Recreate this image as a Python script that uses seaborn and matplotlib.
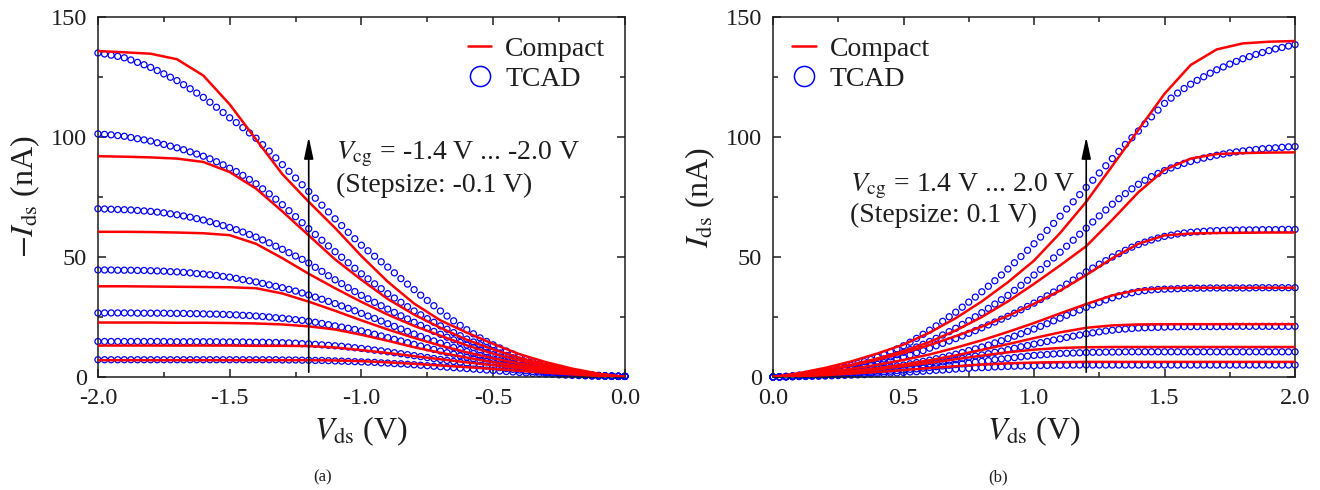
import numpy as np
import pandas as pd
import matplotlib
matplotlib.use("Agg")
import matplotlib.pyplot as plt
from matplotlib.lines import Line2D
from matplotlib.ticker import MultipleLocator, FormatStrFormatter
import seaborn as sns

# ---------------------------------------------------------------------------
# Sweep grids (|Vds| in V): TCAD every 25 mV, compact model every 100 mV
# ---------------------------------------------------------------------------
vds_tcad = [
    0.000, 0.025, 0.050, 0.075, 0.100, 0.125, 0.150, 0.175,
    0.200, 0.225, 0.250, 0.275, 0.300, 0.325, 0.350, 0.375,
    0.400, 0.425, 0.450, 0.475, 0.500, 0.525, 0.550, 0.575,
    0.600, 0.625, 0.650, 0.675, 0.700, 0.725, 0.750, 0.775,
    0.800, 0.825, 0.850, 0.875, 0.900, 0.925, 0.950, 0.975,
    1.000, 1.025, 1.050, 1.075, 1.100, 1.125, 1.150, 1.175,
    1.200, 1.225, 1.250, 1.275, 1.300, 1.325, 1.350, 1.375,
    1.400, 1.425, 1.450, 1.475, 1.500, 1.525, 1.550, 1.575,
    1.600, 1.625, 1.650, 1.675, 1.700, 1.725, 1.750, 1.775,
    1.800, 1.825, 1.850, 1.875, 1.900, 1.925, 1.950, 1.975,
    2.000,
]
vds_compact = [0.0, 0.1, 0.2, 0.3, 0.4, 0.5, 0.6, 0.7, 0.8, 0.9, 1.0,
               1.1, 1.2, 1.3, 1.4, 1.5, 1.6, 1.7, 1.8, 1.9, 2.0]

vcg_n = [-1.4, -1.5, -1.6, -1.7, -1.8, -1.9, -2.0]
vcg_p = [1.4, 1.5, 1.6, 1.7, 1.8, 1.9, 2.0]

# ---------------------------------------------------------------------------
# (a) p-type: -Ids (nA) versus |Vds|, TCAD
# ---------------------------------------------------------------------------
tcad_n14 = [0.2, 0.2, 0.3, 0.3, 0.35, 0.4, 0.5, 0.6,
            0.7, 0.8, 0.9, 1.1, 1.2, 1.4, 1.5, 1.7,
            1.9, 2.1, 2.3, 2.5, 2.7, 2.9, 3.1, 3.3,
            3.5, 3.7, 3.9, 4.1, 4.3, 4.5, 4.7, 4.9,
            5.1, 5.3, 5.5, 5.6, 5.8, 5.9, 6.1, 6.2,
            6.3, 6.4, 6.5, 6.6, 6.7, 6.8, 6.9, 6.9,
            7.0, 7.0, 7.1, 7.1, 7.1, 7.2, 7.2, 7.2,
            7.2, 7.2, 7.2, 7.2, 7.2, 7.2, 7.2, 7.2,
            7.2, 7.2, 7.2, 7.2, 7.2, 7.2, 7.2, 7.2,
            7.2, 7.2, 7.2, 7.2, 7.2, 7.2, 7.2, 7.2,
            7.2]
tcad_n15 = [0.3, 0.3, 0.3, 0.4, 0.4, 0.5, 0.6, 0.8,
            0.9, 1.1, 1.3, 1.6, 1.8, 2.1, 2.3, 2.6,
            2.9, 3.2, 3.5, 3.9, 4.2, 4.6, 4.9, 5.3,
            5.7, 6.1, 6.5, 6.9, 7.3, 7.7, 8.1, 8.5,
            8.9, 9.3, 9.7, 10.1, 10.5, 10.9, 11.2, 11.6,
            11.9, 12.2, 12.5, 12.8, 13.0, 13.2, 13.4, 13.6,
            13.8, 13.9, 14.1, 14.2, 14.3, 14.4, 14.4, 14.5,
            14.5, 14.5, 14.6, 14.6, 14.6, 14.6, 14.7, 14.7,
            14.7, 14.7, 14.7, 14.7, 14.7, 14.7, 14.8, 14.8,
            14.8, 14.8, 14.8, 14.8, 14.8, 14.8, 14.8, 14.8,
            14.8]
tcad_n16 = [0.3, 0.3, 0.3, 0.4, 0.5, 0.6, 0.8, 0.9,
            1.1, 1.4, 1.7, 2.0, 2.3, 2.7, 3.1, 3.5,
            3.9, 4.4, 4.9, 5.4, 5.9, 6.5, 7.0, 7.6,
            8.2, 8.8, 9.5, 10.1, 10.8, 11.5, 12.2, 12.9,
            13.6, 14.3, 15.0, 15.7, 16.4, 17.1, 17.8, 18.5,
            19.2, 19.8, 20.3, 20.8, 21.3, 21.8, 22.3, 22.8,
            23.2, 23.6, 23.9, 24.2, 24.5, 24.7, 25.0, 25.2,
            25.4, 25.6, 25.7, 25.9, 26.0, 26.1, 26.2, 26.2,
            26.3, 26.4, 26.4, 26.5, 26.5, 26.5, 26.6, 26.6,
            26.6, 26.6, 26.6, 26.7, 26.7, 26.7, 26.7, 26.7,
            26.7]
tcad_n17 = [0.3, 0.3, 0.4, 0.4, 0.5, 0.7, 0.9, 1.1,
            1.3, 1.6, 2.0, 2.4, 2.8, 3.3, 3.8, 4.3,
            4.9, 5.5, 6.1, 6.8, 7.5, 8.2, 9.0, 9.8,
            10.6, 11.5, 12.3, 13.2, 14.1, 15.0, 16.0, 16.9,
            17.9, 19.0, 20.0, 21.1, 22.2, 23.3, 24.4, 25.4,
            26.5, 27.6, 28.6, 29.6, 30.6, 31.5, 32.4, 33.3,
            34.2, 35.0, 35.8, 36.5, 37.2, 37.8, 38.4, 39.0,
            39.6, 40.1, 40.6, 41.1, 41.6, 41.9, 42.3, 42.6,
            42.9, 43.1, 43.4, 43.6, 43.8, 43.9, 44.1, 44.2,
            44.3, 44.4, 44.4, 44.5, 44.5, 44.5, 44.6, 44.6,
            44.6]
tcad_n18 = [0.3, 0.3, 0.4, 0.4, 0.6, 0.8, 1.0, 1.2,
            1.5, 1.9, 2.3, 2.8, 3.3, 3.9, 4.6, 5.3,
            6.0, 6.8, 7.6, 8.4, 9.3, 10.3, 11.3, 12.3,
            13.3, 14.4, 15.5, 16.6, 17.8, 19.0, 20.3, 21.5,
            22.8, 24.2, 25.5, 26.9, 28.3, 29.7, 31.1, 32.6,
            34.0, 35.6, 37.2, 38.9, 40.5, 42.2, 44.0, 45.7,
            47.5, 49.0, 50.4, 51.8, 53.2, 54.5, 55.9, 57.1,
            58.3, 59.4, 60.4, 61.4, 62.3, 63.1, 63.9, 64.7,
            65.4, 66.0, 66.6, 67.1, 67.6, 68.0, 68.4, 68.7,
            69.0, 69.2, 69.4, 69.6, 69.7, 69.8, 69.9, 70.0,
            70.1]
tcad_n19 = [0.3, 0.3, 0.4, 0.5, 0.6, 0.8, 1.1, 1.4,
            1.7, 2.2, 2.7, 3.2, 3.8, 4.5, 5.3, 6.1,
            7.0, 8.0, 9.0, 10.0, 11.0, 12.2, 13.4, 14.6,
            15.8, 17.2, 18.5, 19.9, 21.3, 22.8, 24.3, 25.9,
            27.5, 29.3, 31.1, 32.9, 34.7, 36.8, 38.8, 40.9,
            43.0, 45.3, 47.6, 49.9, 52.2, 54.6, 57.0, 59.4,
            61.8, 64.3, 66.8, 69.3, 71.8, 74.1, 76.3, 78.4,
            80.5, 82.3, 84.0, 85.6, 87.0, 88.4, 89.7, 90.9,
            92.0, 92.9, 93.8, 94.7, 95.5, 96.2, 96.9, 97.6,
            98.3, 98.8, 99.3, 99.8, 100.3, 100.6, 100.9, 101.1,
            101.3]
tcad_n20 = [0.3, 0.3, 0.4, 0.5, 0.7, 0.9, 1.2, 1.6,
            2.0, 2.5, 3.1, 3.8, 4.5, 5.4, 6.3, 7.3,
            8.4, 9.6, 10.8, 12.1, 13.4, 14.8, 16.3, 18.0,
            19.7, 21.5, 23.4, 25.4, 27.5, 29.7, 31.9, 34.1,
            36.4, 38.7, 41.0, 43.4, 45.8, 48.0, 50.3, 52.6,
            54.9, 57.6, 60.3, 63.1, 65.9, 68.8, 71.6, 74.5,
            77.3, 80.1, 82.9, 85.7, 88.5, 91.3, 94.1, 96.8,
            99.5, 101.7, 103.9, 106.0, 108.0, 110.2, 112.4, 114.5,
            116.5, 118.3, 120.1, 121.8, 123.5, 124.9, 126.3, 127.7,
            129.0, 130.1, 131.1, 132.1, 133.0, 133.6, 134.1, 134.6,
            135.0]

# (a) compact model
comp_n14 = [0.0, 0.5, 1.1, 1.8, 2.6, 3.4, 4.1, 4.8, 5.5, 6.1, 6.6,
            6.9, 7.0, 7.0, 7.0, 7.0, 7.0, 7.0, 7.0, 7.0, 7.0]
comp_n15 = [0.0, 0.7, 1.6, 2.6, 3.7, 4.9, 6.1, 7.4, 8.7, 10.0, 11.2,
            12.3, 12.9, 13.0, 13.0, 13.1, 13.1, 13.1, 13.1, 13.1, 13.1]
comp_n16 = [0.0, 0.8, 1.8, 3.0, 4.5, 6.2, 8.1, 10.1, 12.4, 15.1, 17.6,
            19.8, 21.1, 21.9, 22.3, 22.5, 22.6, 22.6, 22.7, 22.7, 22.7]
comp_n17 = [0.0, 0.9, 2.1, 3.7, 5.6, 7.8, 10.3, 13.1, 16.3, 19.8, 23.6,
            27.6, 31.4, 34.8, 37.0, 37.4, 37.5, 37.6, 37.7, 37.8, 37.8]
comp_n18 = [0.0, 1.1, 2.6, 4.5, 6.9, 9.7, 13.2, 17.2, 21.3, 26.0, 31.3,
            37.0, 43.0, 49.5, 55.5, 59.1, 59.9, 60.2, 60.4, 60.5, 60.5]
comp_n19 = [0.0, 1.2, 2.9, 5.2, 8.0, 11.5, 15.5, 20.5, 26.0, 32.5, 40.5,
            49.0, 59.0, 69.0, 78.5, 85.4, 89.6, 91.0, 91.5, 91.8, 92.0]
comp_n20 = [0.0, 1.4, 3.5, 6.2, 9.5, 13.8, 18.5, 23.6, 30.6, 39.7, 50.4,
            62.1, 73.0, 84.5, 99.0, 113.6, 125.6, 132.4, 134.7, 135.3, 135.8]

# ---------------------------------------------------------------------------
# (b) n-type: Ids (nA) versus Vds, TCAD
# ---------------------------------------------------------------------------
tcad_p14 = [0.0, 0.0, 0.1, 0.1, 0.2, 0.2, 0.3, 0.3,
            0.4, 0.5, 0.6, 0.7, 0.8, 0.9, 1.0, 1.2,
            1.3, 1.4, 1.6, 1.7, 1.9, 2.1, 2.2, 2.4,
            2.6, 2.8, 2.9, 3.1, 3.3, 3.5, 3.6, 3.8,
            3.9, 4.0, 4.2, 4.3, 4.4, 4.5, 4.6, 4.6,
            4.7, 4.8, 4.8, 4.9, 4.9, 4.9, 5.0, 5.0,
            5.0, 5.0, 5.0, 5.0, 5.0, 5.0, 5.0, 5.0,
            5.0, 5.0, 5.0, 5.0, 5.0, 5.0, 5.0, 5.0,
            5.0, 5.0, 5.0, 5.0, 5.0, 5.0, 5.0, 5.0,
            5.0, 5.0, 5.0, 5.0, 5.0, 5.0, 5.0, 5.0,
            5.0]
tcad_p15 = [0.0, 0.0, 0.1, 0.2, 0.3, 0.4, 0.5, 0.6,
            0.7, 0.8, 1.0, 1.1, 1.3, 1.5, 1.6, 1.8,
            2.0, 2.2, 2.4, 2.7, 2.9, 3.2, 3.4, 3.7,
            4.0, 4.3, 4.6, 4.9, 5.2, 5.5, 5.8, 6.2,
            6.5, 6.8, 7.2, 7.5, 7.8, 8.1, 8.4, 8.7,
            9.0, 9.2, 9.4, 9.6, 9.8, 9.9, 10.0, 10.1,
            10.2, 10.3, 10.3, 10.4, 10.4, 10.4, 10.5, 10.5,
            10.5, 10.5, 10.5, 10.5, 10.5, 10.5, 10.5, 10.5,
            10.5, 10.5, 10.5, 10.5, 10.5, 10.5, 10.5, 10.5,
            10.5, 10.5, 10.5, 10.5, 10.5, 10.5, 10.5, 10.5,
            10.5]
tcad_p16 = [0.0, 0.0, 0.1, 0.2, 0.3, 0.4, 0.6, 0.7,
            0.9, 1.1, 1.3, 1.5, 1.7, 1.9, 2.2, 2.4,
            2.7, 3.0, 3.3, 3.6, 3.9, 4.3, 4.6, 5.0,
            5.4, 5.8, 6.3, 6.7, 7.2, 7.7, 8.2, 8.7,
            9.2, 9.7, 10.3, 10.8, 11.4, 12.0, 12.6, 13.1,
            13.7, 14.3, 14.8, 15.4, 15.9, 16.5, 17.0, 17.5,
            18.0, 18.4, 18.8, 19.2, 19.5, 19.8, 20.0, 20.2,
            20.4, 20.5, 20.6, 20.7, 20.8, 20.9, 20.9, 21.0,
            21.0, 21.0, 21.0, 21.0, 21.0, 21.0, 21.1, 21.1,
            21.1, 21.1, 21.1, 21.1, 21.1, 21.1, 21.1, 21.1,
            21.1]
tcad_p17 = [0.0, 0.0, 0.1, 0.2, 0.4, 0.5, 0.7, 0.9,
            1.1, 1.3, 1.6, 1.8, 2.1, 2.4, 2.7, 3.0,
            3.4, 3.8, 4.2, 4.6, 5.0, 5.5, 6.0, 6.5,
            7.0, 7.6, 8.2, 8.8, 9.5, 10.2, 11.0, 11.7,
            12.5, 13.3, 14.2, 15.1, 16.0, 17.0, 18.0, 19.0,
            20.0, 21.1, 22.2, 23.4, 24.5, 25.7, 26.8, 27.9,
            29.0, 30.1, 31.1, 32.1, 33.0, 33.8, 34.5, 35.1,
            35.6, 36.0, 36.3, 36.5, 36.6, 36.7, 36.8, 36.9,
            37.0, 37.0, 37.0, 37.1, 37.1, 37.1, 37.1, 37.1,
            37.1, 37.1, 37.2, 37.2, 37.2, 37.2, 37.2, 37.2,
            37.2]
tcad_p18 = [0.0, 0.0, 0.2, 0.3, 0.5, 0.7, 1.0, 1.2,
            1.5, 1.9, 2.3, 2.7, 3.1, 3.6, 4.1, 4.7,
            5.3, 6.0, 6.7, 7.5, 8.3, 9.2, 10.1, 11.0,
            12.0, 13.0, 14.0, 15.0, 16.0, 17.1, 18.2, 19.3,
            20.5, 21.7, 22.9, 24.1, 25.3, 26.6, 28.0, 29.4,
            30.8, 32.3, 33.8, 35.4, 37.0, 38.7, 40.4, 42.1,
            43.8, 45.4, 47.0, 48.5, 50.0, 51.4, 52.8, 54.1,
            55.2, 56.2, 57.1, 57.9, 58.6, 59.1, 59.6, 60.0,
            60.3, 60.5, 60.7, 60.9, 61.0, 61.1, 61.2, 61.2,
            61.3, 61.3, 61.3, 61.4, 61.4, 61.4, 61.5, 61.5,
            61.5]
tcad_p19 = [0.0, 0.1, 0.2, 0.4, 0.6, 0.9, 1.2, 1.5,
            1.9, 2.3, 2.8, 3.3, 3.8, 4.4, 5.1, 5.8,
            6.6, 7.5, 8.4, 9.3, 10.3, 11.4, 12.5, 13.6,
            14.8, 16.1, 17.5, 18.9, 20.3, 21.9, 23.5, 25.1,
            26.8, 28.6, 30.4, 32.2, 34.0, 36.1, 38.2, 40.3,
            42.5, 44.8, 47.2, 49.6, 52.0, 54.5, 57.0, 59.5,
            62.0, 64.6, 67.1, 69.6, 72.0, 74.3, 76.4, 78.4,
            80.3, 82.0, 83.5, 84.8, 86.0, 87.1, 88.1, 89.0,
            89.8, 90.5, 91.2, 91.8, 92.4, 92.9, 93.4, 93.8,
            94.2, 94.5, 94.8, 95.1, 95.3, 95.5, 95.7, 95.9,
            96.0]
tcad_p20 = [0.0, 0.1, 0.3, 0.5, 0.8, 1.1, 1.5, 1.9,
            2.4, 2.9, 3.5, 4.1, 4.8, 5.6, 6.4, 7.3,
            8.3, 9.4, 10.5, 11.7, 13.0, 14.5, 16.1, 17.8,
            19.5, 21.3, 23.2, 25.1, 27.0, 29.1, 31.2, 33.3,
            35.5, 37.8, 40.1, 42.5, 45.0, 47.6, 50.2, 52.8,
            55.5, 58.3, 61.1, 64.0, 67.0, 70.0, 73.0, 76.0,
            79.0, 82.0, 85.0, 88.0, 91.0, 94.0, 96.9, 99.7,
            102.5, 105.5, 108.4, 111.2, 114.0, 116.2, 118.3, 120.2,
            122.0, 123.6, 125.1, 126.6, 128.0, 129.2, 130.4, 131.5,
            132.6, 133.5, 134.4, 135.2, 136.0, 136.7, 137.3, 137.9,
            138.5]

# (b) compact model
comp_p14 = [0.0, 0.3, 0.8, 1.4, 2.1, 2.9, 3.7, 4.5, 5.2, 5.7, 6.0,
            6.2, 6.3, 6.3, 6.3, 6.3, 6.3, 6.3, 6.3, 6.3, 6.3]
comp_p15 = [0.0, 0.5, 1.2, 2.1, 3.2, 4.5, 5.9, 7.4, 8.9, 10.3, 11.4,
            12.1, 12.4, 12.5, 12.5, 12.5, 12.5, 12.5, 12.5, 12.5, 12.5]
comp_p16 = [0.0, 0.6, 1.4, 2.4, 3.7, 5.2, 7.0, 9.0, 11.3, 13.7, 16.2,
            18.6, 20.5, 21.5, 21.9, 22.0, 22.0, 22.0, 22.0, 22.0, 22.0]
comp_p17 = [0.0, 0.8, 2.0, 3.4, 5.1, 7.1, 9.4, 12.2, 15.3, 18.8, 22.5,
            26.5, 30.4, 34.0, 36.3, 37.0, 37.2, 37.2, 37.2, 37.2, 37.2]
comp_p18 = [0.0, 1.1, 2.8, 4.8, 7.2, 10.0, 13.3, 17.0, 21.0, 25.5, 30.5,
            36.0, 42.5, 49.5, 55.5, 59.0, 59.8, 60.0, 60.1, 60.2, 60.2]
comp_p19 = [0.0, 1.3, 3.0, 5.1, 7.7, 10.8, 14.6, 19.4, 25.0, 31.5, 38.8,
            46.5, 54.5, 65.5, 77.0, 86.3, 91.0, 92.9, 93.3, 93.5, 93.6]
comp_p20 = [0.0, 1.6, 3.8, 6.5, 9.8, 13.5, 18.5, 24.5, 31.5, 39.5, 48.5,
            60.0, 73.0, 88.0, 103.0, 118.0, 130.0, 136.5, 139.0, 139.7, 140.0]

tcad_n = [tcad_n14, tcad_n15, tcad_n16, tcad_n17, tcad_n18, tcad_n19, tcad_n20]
comp_n = [comp_n14, comp_n15, comp_n16, comp_n17, comp_n18, comp_n19, comp_n20]
tcad_p = [tcad_p14, tcad_p15, tcad_p16, tcad_p17, tcad_p18, tcad_p19, tcad_p20]
comp_p = [comp_p14, comp_p15, comp_p16, comp_p17, comp_p18, comp_p19, comp_p20]


def long_frame(vds, curves, vcg, sign):
    parts = [pd.DataFrame({"vds": sign * np.asarray(vds), "ids": ids, "vcg": v})
             for v, ids in zip(vcg, curves)]
    return pd.concat(parts, ignore_index=True)


tcad_a = long_frame(vds_tcad, tcad_n, vcg_n, -1.0)
comp_a = long_frame(vds_compact, comp_n, vcg_n, -1.0)
tcad_b = long_frame(vds_tcad, tcad_p, vcg_p, 1.0)
comp_b = long_frame(vds_compact, comp_p, vcg_p, 1.0)

# ---------------------------------------------------------------------------
# Style
# ---------------------------------------------------------------------------
sns.set_style("ticks")
ink = "#1e1e1e"
plt.rcParams.update({
    "font.family": ["Liberation Serif", "DejaVu Serif"],
    "mathtext.fontset": "stix",
    "axes.unicode_minus": False,
    "text.color": ink,
    "axes.labelcolor": ink,
    "xtick.color": ink,
    "ytick.color": ink,
    "axes.edgecolor": ink,
    "axes.linewidth": 1.1,
})

RED = "#ff0000"
BLUE = "#0000ff"
TICK_FS = 17.5
LABEL_FS = 23
TEXT_FS = 20

fig = plt.figure(figsize=(13.2, 4.9), dpi=100)
ax_a = fig.add_axes([0.0742, 0.2306, 0.3992, 0.7347])
ax_b = fig.add_axes([0.5856, 0.2306, 0.3955, 0.7347])


def draw_panel(ax, tcad, comp):
    sns.scatterplot(data=tcad, x="vds", y="ids", ax=ax, marker="o", s=19,
                    facecolor="none", edgecolor=BLUE, linewidth=0.9,
                    legend=False, clip_on=False, zorder=2)
    sns.lineplot(data=comp, x="vds", y="ids", units="vcg", estimator=None,
                 ax=ax, color=RED, lw=1.8, legend=False, zorder=3)
    ax.set_ylim(0, 150)
    ax.yaxis.set_major_locator(MultipleLocator(50))
    ax.yaxis.set_minor_locator(MultipleLocator(25))
    ax.xaxis.set_major_locator(MultipleLocator(0.5))
    ax.xaxis.set_minor_locator(MultipleLocator(0.25))
    ax.xaxis.set_major_formatter(FormatStrFormatter("%.1f"))
    ax.tick_params(which="both", direction="in", top=True, right=True,
                   width=1.1, labelsize=TICK_FS)
    ax.tick_params(which="major", length=6, pad=8)
    ax.tick_params(which="minor", length=3.5)
    for sp in ax.spines.values():
        sp.set_visible(True)
        sp.set_linewidth(1.1)
    ax.set_xlabel(r"$V_{\mathrm{ds}}$ (V)", fontsize=LABEL_FS, labelpad=4)


def legend_handles():
    return [Line2D([], [], color=RED, lw=1.8),
            Line2D([], [], ls="none", marker="o", ms=14.5, mfc="none",
                   mec=BLUE, mew=1.1)]


# (a)
draw_panel(ax_a, tcad_a, comp_a)
ax_a.set_xlim(-2.0, 0.0)
ax_a.set_ylabel(r"$-I_{\mathrm{ds}}$ (nA)", fontsize=LABEL_FS, labelpad=6)
ax_a.annotate("", xy=(-1.2, 100), xytext=(-1.2, 2),
              arrowprops=dict(arrowstyle="-|>,head_length=1.3,head_width=0.28",
                              color="black", lw=1.2, mutation_scale=10,
                              shrinkA=0, shrinkB=0))
ax_a.text(-1.095, 93, r"$V_{\mathrm{cg}}$ = -1.4 V ... -2.0 V",
          fontsize=TEXT_FS, va="center", ha="left")
ax_a.text(-1.095, 80, "(Stepsize: -0.1 V)", fontsize=TEXT_FS,
          va="center", ha="left")
ax_a.legend(legend_handles(), ["Compact", "TCAD"], loc="upper right",
            frameon=False, fontsize=TEXT_FS, handlelength=0.85,
            handletextpad=0.5, labelspacing=0.15, borderaxespad=0.3)

# (b)
draw_panel(ax_b, tcad_b, comp_b)
ax_b.set_xlim(0.0, 2.0)
ax_b.set_ylabel(r"$I_{\mathrm{ds}}$ (nA)", fontsize=LABEL_FS, labelpad=6)
ax_b.annotate("", xy=(1.2, 100), xytext=(1.2, 2),
              arrowprops=dict(arrowstyle="-|>,head_length=1.3,head_width=0.28",
                              color="black", lw=1.2, mutation_scale=10,
                              shrinkA=0, shrinkB=0))
ax_b.text(0.295, 79.5, r"$V_{\mathrm{cg}}$ = 1.4 V ... 2.0 V",
          fontsize=TEXT_FS, va="center", ha="left")
ax_b.text(0.295, 67.5, "(Stepsize: 0.1 V)", fontsize=TEXT_FS,
          va="center", ha="left")
ax_b.legend(legend_handles(), ["Compact", "TCAD"], loc="upper left",
            frameon=False, fontsize=TEXT_FS, handlelength=0.85,
            handletextpad=0.5, labelspacing=0.15, borderaxespad=0.3)

fig.text(0.244, 0.025, "(a)", fontsize=12, ha="center", va="center")
fig.text(0.756, 0.025, "(b)", fontsize=12, ha="center", va="center")

fig.savefig("out.png", dpi=100)
